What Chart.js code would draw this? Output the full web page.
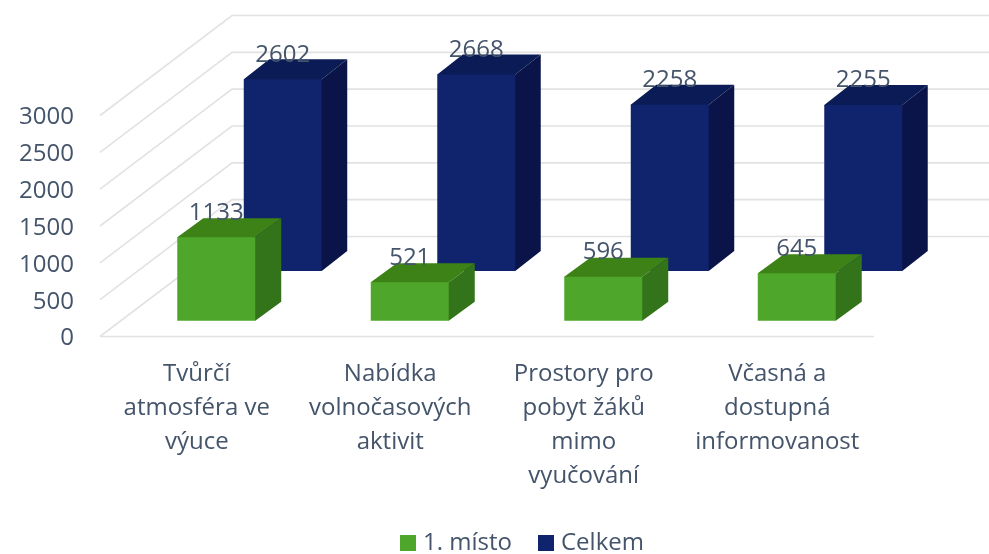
<!DOCTYPE html>
<html>
<head>
<meta charset="utf-8">
<style>html,body{margin:0;padding:0;background:#fff}canvas{display:block}</style>
<script src="https://cdn.jsdelivr.net/npm/chart.js@4"></script>
</head>
<body>
<canvas id="c" width="989" height="554"></canvas>
<script>
const categories = [
  ["Tvůrčí", "atmosféra ve", "výuce"],
  ["Nabídka", "volnočasových", "aktivit"],
  ["Prostory pro", "pobyt žáků", "mimo", "vyučování"],
  ["Včasná a", "dostupná", "informovanost"]
];
const firstPlace = [1133, 521, 596, 645];
const total = [2602, 2668, 2258, 2255];
const yTicks = [0, 500, 1000, 1500, 2000, 2500, 3000];

const FONT = "'Open Sans', Lato, sans-serif";
const TEXT = "#44546A";
const GRID = "#E2E2E2";
const WALL = { dx: 132, dy: -100, right: 989 };
const styles = [
  { front: "#4EA72A", top: "#3C8216", side: "#33741A", shiftX: 19.5, shiftY: -15.8, depthX: 26, depthY: -19 },
  { front: "#10246E", top: "#0B1B56", side: "#0A1449", shiftX: 86, shiftY: -65.5, depthX: 25.5, depthY: -20 }
];

function poly(ctx, pts, fill) {
  ctx.fillStyle = fill;
  ctx.beginPath();
  pts.forEach((p, i) => i ? ctx.lineTo(p[0], p[1]) : ctx.moveTo(p[0], p[1]));
  ctx.closePath();
  ctx.fill();
}

const walls = {
  id: "walls",
  beforeDatasetsDraw(chart) {
    const { ctx, chartArea: a, scales: { y } } = chart;
    ctx.save();
    ctx.strokeStyle = GRID;
    ctx.lineWidth = 1.6;
    y.ticks.forEach(t => {
      const py = y.getPixelForValue(t.value);
      ctx.beginPath();
      ctx.moveTo(a.left, py);
      ctx.lineTo(a.left + WALL.dx, py + WALL.dy);
      ctx.lineTo(WALL.right, py + WALL.dy);
      ctx.stroke();
    });
    const p0 = y.getPixelForValue(0);
    ctx.beginPath();
    ctx.moveTo(a.left, p0);
    ctx.lineTo(a.right, p0);
    ctx.stroke();
    ctx.restore();
  },
  beforeDatasetDraw(chart, args) {
    const { ctx } = chart;
    const s = styles[args.index];
    ctx.save();
    ctx.translate(s.shiftX, s.shiftY);
    args.meta.data.forEach(el => {
      const l = el.x - el.width / 2, r = el.x + el.width / 2;
      // faces tuck under the front edge so no seam shows between them
      poly(ctx, [[l, el.y], [l + 2, el.y + 2], [r - 2, el.y + 2], [r, el.y], [r + s.depthX, el.y + s.depthY], [l + s.depthX, el.y + s.depthY]], s.top);
      poly(ctx, [[r, el.y], [r - 2, el.y + 2], [r - 2, el.base - 2], [r, el.base], [r + s.depthX, el.base + s.depthY], [r + s.depthX, el.y + s.depthY]], s.side);
      poly(ctx, [[l + 1, el.y + 1], [r - 1, el.y + 1], [r - 1, el.base - 1], [l + 1, el.base - 1]], s.front);
    });
  },
  afterDatasetDraw(chart) {
    chart.ctx.restore();
  },
  afterDatasetsDraw(chart) {
    const { ctx } = chart;
    ctx.save();
    ctx.fillStyle = TEXT;
    ctx.font = "24px " + FONT;
    ctx.textAlign = "center";
    ctx.textBaseline = "middle";
    chart.data.datasets.forEach((ds, i) => {
      const s = styles[i];
      chart.getDatasetMeta(i).data.forEach((el, j) => {
        ctx.fillText(String(ds.data[j]), el.x + s.shiftX, el.y + s.shiftY - 24.5);
      });
    });
    ctx.restore();
  },
  afterDraw(chart) {
    const { ctx } = chart;
    ctx.save();
    ctx.font = "24px " + FONT;
    ctx.textBaseline = "middle";
    const xs = [400, 538];
    chart.data.datasets.forEach((ds, i) => {
      ctx.fillStyle = ds.backgroundColor;
      ctx.fillRect(xs[i], 535, 16, 16);
      ctx.fillStyle = TEXT;
      ctx.fillText(ds.label, xs[i] + 23, 543.5);
    });
    ctx.restore();
  }
};

new Chart(document.getElementById("c"), {
  type: "bar",
  data: {
    labels: categories,
    datasets: [
      { label: "1. místo", data: firstPlace, backgroundColor: styles[0].front, clip: false },
      { label: "Celkem", data: total, backgroundColor: styles[1].front, clip: false }
    ]
  },
  options: {
    responsive: false,
    animation: false,
    layout: { padding: { top: 115.5, right: 115, bottom: 0, left: 0 } },
    plugins: { legend: { display: false }, tooltip: { enabled: false } },
    datasets: { bar: { grouped: false, barPercentage: 0.403, categoryPercentage: 1 } },
    scales: {
      x: {
        grid: { display: false, drawTicks: false },
        border: { display: false },
        afterFit(s) { s.height = 217.5; },
        ticks: {
          autoSkip: false, maxRotation: 0, minRotation: 0, padding: 20,
          color: TEXT, font: { family: FONT, size: 24, lineHeight: 1.43 }
        }
      },
      y: {
        min: 0, max: 3000,
        grid: { display: false, drawTicks: false },
        border: { display: false },
        afterFit(s) { s.width = 100; },
        afterBuildTicks(s) { s.ticks = yTicks.map(v => ({ value: v })); },
        ticks: { padding: 26, labelOffset: 2, color: TEXT, font: { family: FONT, size: 24 }, callback: v => String(v) }
      }
    }
  },
  plugins: [walls]
});
</script>
</body>
</html>
